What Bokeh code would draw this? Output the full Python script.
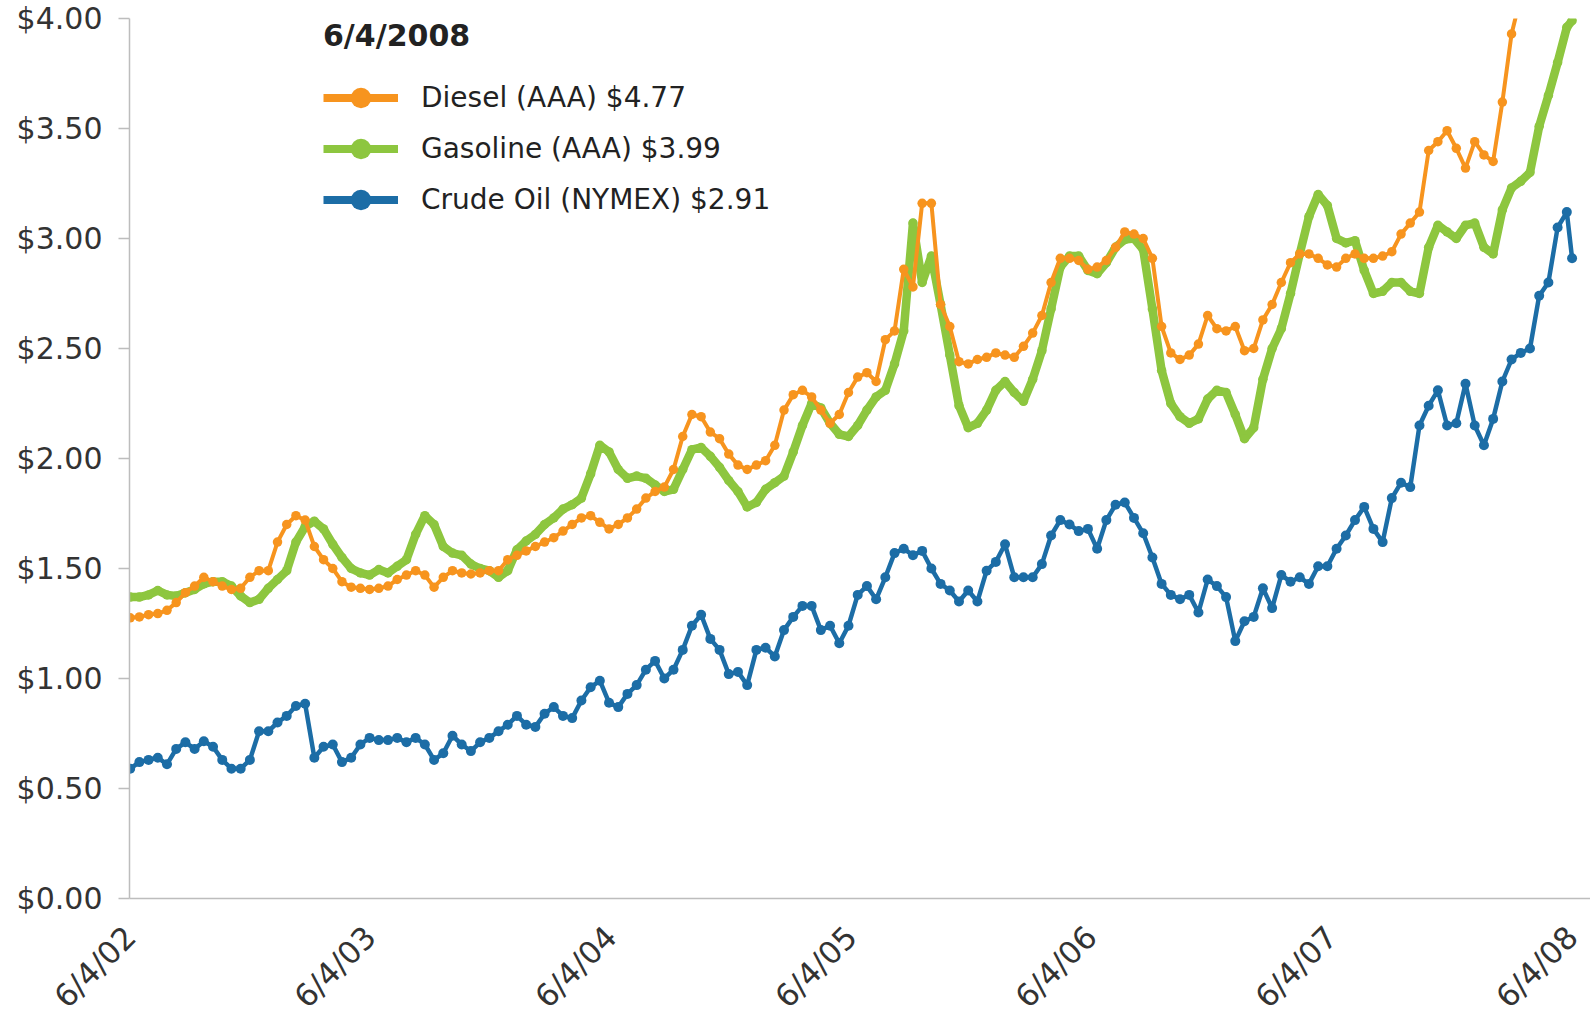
import pandas as pd
from datetime import datetime
from math import pi
from bokeh.plotting import figure
from bokeh.models import (Range1d, FixedTicker, NumeralTickFormatter, Legend,
                          LegendItem, ColumnDataSource, CustomJSTickFormatter)
from bokeh.embed import file_html
from bokeh.resources import INLINE

# ---------------- data ($ per gallon) ----------------
dates = list(pd.date_range("2002-06-04", periods=157, freq="14D")) + [pd.Timestamp("2008-06-04")]

gasoline = [
    1.37, 1.37, 1.38, 1.40, 1.38, 1.375, 1.39, 1.405, 1.43, 1.44,
    1.44, 1.42, 1.375, 1.345, 1.36, 1.41, 1.45, 1.49, 1.62, 1.69,
    1.715, 1.68, 1.61, 1.55, 1.50, 1.48, 1.47, 1.495, 1.48, 1.51,
    1.54, 1.655, 1.74, 1.70, 1.60, 1.57, 1.56, 1.52, 1.50, 1.49,
    1.46, 1.49, 1.585, 1.625, 1.655, 1.70, 1.73, 1.77, 1.79, 1.82,
    1.93, 2.06, 2.03, 1.95, 1.91, 1.92, 1.91, 1.88, 1.85, 1.86,
    1.95, 2.04, 2.05, 2.01, 1.96, 1.90, 1.85, 1.78, 1.80, 1.86,
    1.89, 1.92, 2.03, 2.15, 2.25, 2.23, 2.16, 2.11, 2.10, 2.15,
    2.22, 2.28, 2.31, 2.43, 2.58, 3.07, 2.80, 2.92, 2.70, 2.47,
    2.24, 2.14, 2.16, 2.22, 2.31, 2.35, 2.30, 2.26, 2.36, 2.49,
    2.68, 2.87, 2.92, 2.92, 2.855, 2.84, 2.89, 2.96, 2.995, 3.00,
    2.95, 2.68, 2.40, 2.25, 2.19, 2.16, 2.18, 2.27, 2.31, 2.30,
    2.20, 2.09, 2.14, 2.36, 2.50, 2.59, 2.75, 2.93, 3.10, 3.20,
    3.15, 3.00, 2.98, 2.99, 2.855, 2.75, 2.76, 2.80, 2.80, 2.76,
    2.75, 2.96, 3.06, 3.03, 3.00, 3.06, 3.07, 2.96, 2.93, 3.13,
    3.23, 3.26, 3.30, 3.51, 3.65, 3.80, 3.96, 3.99,
]

diesel = [
    1.276, 1.28, 1.29, 1.295, 1.31, 1.345, 1.39, 1.42, 1.46, 1.44,
    1.42, 1.405, 1.41, 1.46, 1.49, 1.49, 1.62, 1.70, 1.74, 1.72,
    1.60, 1.54, 1.50, 1.44, 1.415, 1.41, 1.405, 1.41, 1.42, 1.45,
    1.47, 1.49, 1.47, 1.415, 1.46, 1.49, 1.48, 1.475, 1.48, 1.49,
    1.49, 1.54, 1.56, 1.58, 1.60, 1.62, 1.64, 1.67, 1.70, 1.73,
    1.74, 1.71, 1.68, 1.70, 1.73, 1.77, 1.82, 1.85, 1.87, 1.95,
    2.10, 2.20, 2.19, 2.12, 2.09, 2.02, 1.97, 1.95, 1.97, 1.99,
    2.06, 2.22, 2.29, 2.31, 2.28, 2.22, 2.16, 2.20, 2.30, 2.37,
    2.39, 2.35, 2.54, 2.58, 2.86, 2.78, 3.16, 3.16, 2.70, 2.60,
    2.44, 2.43, 2.45, 2.46, 2.48, 2.47, 2.46, 2.51, 2.57, 2.65,
    2.80, 2.91, 2.91, 2.90, 2.86, 2.87, 2.90, 2.96, 3.03, 3.02,
    3.00, 2.91, 2.60, 2.48, 2.45, 2.47, 2.52, 2.65, 2.59, 2.58,
    2.60, 2.49, 2.50, 2.63, 2.70, 2.80, 2.89, 2.93, 2.93, 2.91,
    2.88, 2.87, 2.91, 2.93, 2.91, 2.91, 2.92, 2.94, 3.02, 3.07,
    3.12, 3.40, 3.44, 3.49, 3.41, 3.32, 3.44, 3.38, 3.35, 3.62,
    3.93, 4.10, 4.20, 4.35, 4.45, 4.70, 4.75, 4.77,
]

crude = [
    0.59, 0.62, 0.63, 0.64, 0.61, 0.68, 0.71, 0.68, 0.715, 0.69,
    0.63, 0.59, 0.59, 0.63, 0.76, 0.76, 0.80, 0.83, 0.875, 0.885,
    0.64, 0.69, 0.70, 0.62, 0.64, 0.70, 0.73, 0.72, 0.72, 0.73,
    0.71, 0.73, 0.70, 0.63, 0.66, 0.74, 0.70, 0.67, 0.71, 0.73,
    0.76, 0.79, 0.83, 0.79, 0.78, 0.84, 0.87, 0.83, 0.82, 0.90,
    0.96, 0.99, 0.89, 0.87, 0.93, 0.97, 1.04, 1.08, 1.00, 1.04,
    1.13, 1.24, 1.29, 1.18, 1.13, 1.02, 1.03, 0.97, 1.13, 1.14,
    1.10, 1.22, 1.28, 1.33, 1.33, 1.22, 1.24, 1.16, 1.24, 1.38,
    1.42, 1.36, 1.46, 1.57, 1.59, 1.56, 1.58, 1.50, 1.43, 1.40,
    1.35, 1.40, 1.35, 1.49, 1.53, 1.61, 1.46, 1.46, 1.46, 1.52,
    1.65, 1.72, 1.70, 1.67, 1.68, 1.59, 1.72, 1.79, 1.80, 1.73,
    1.66, 1.55, 1.43, 1.38, 1.36, 1.38, 1.30, 1.45, 1.42, 1.37,
    1.17, 1.26, 1.28, 1.41, 1.32, 1.47, 1.44, 1.46, 1.43, 1.51,
    1.51, 1.59, 1.65, 1.72, 1.78, 1.68, 1.62, 1.82, 1.89, 1.87,
    2.15, 2.24, 2.31, 2.15, 2.16, 2.34, 2.15, 2.06, 2.18, 2.35,
    2.45, 2.48, 2.50, 2.74, 2.80, 3.05, 3.12, 2.91,
]

series_labels = ["Diesel (AAA) $4.77", "Gasoline (AAA) $3.99", "Crude Oil (NYMEX) $2.91"]
legend_title = "6/4/2008"

x_tick_dates = ["2002-06-04", "2003-06-04", "2004-06-04", "2005-06-04",
                "2006-06-04", "2007-06-04", "2008-06-04"]
x_tick_labels = ["6/4/02", "6/4/03", "6/4/04", "6/4/05", "6/4/06", "6/4/07", "6/4/08"]
y_ticks = [0.0, 0.5, 1.0, 1.5, 2.0, 2.5, 3.0, 3.5, 4.0]

# ---------------- styling ----------------
ORANGE = "#F7941E"
GREEN = "#8DC63F"
BLUE = "#1C6DA6"
AXIS_GRAY = "#BDBDBD"
TEXT = "#333333"
FONT = "DejaVu Sans"

p = figure(width=1590, height=1030, x_axis_type="datetime",
           x_range=Range1d(datetime(2002, 6, 3), datetime(2008, 7, 2)),
           y_range=Range1d(0, 4),
           output_backend="svg", toolbar_location=None,
           min_border_left=129, min_border_right=0,
           min_border_top=18, min_border_bottom=132)
p.outline_line_color = None
p.grid.visible = False
p.background_fill_color = "white"
p.border_fill_color = "white"

src = ColumnDataSource(dict(date=dates, diesel=diesel, gasoline=gasoline, crude=crude))

p.line("date", "gasoline", source=src, line_color=GREEN, line_width=8.5, line_join="round")
p.scatter("date", "gasoline", source=src, size=9.5, fill_color=GREEN, line_color=None)
p.line("date", "diesel", source=src, line_color=ORANGE, line_width=4, line_join="round")
p.scatter("date", "diesel", source=src, size=9.5, fill_color=ORANGE, line_color=None)
p.line("date", "crude", source=src, line_color=BLUE, line_width=4.5, line_join="round")
p.scatter("date", "crude", source=src, size=10, fill_color=BLUE, line_color=None)

# legend key glyphs (thick line + big dot); their single point lies outside the ranges
key_src = ColumnDataSource(dict(x=[datetime(2000, 1, 1)], y=[-10.0]))
items = []
for lab, col in zip(series_labels, [ORANGE, GREEN, BLUE]):
    lr = p.line("x", "y", source=key_src, line_color=col, line_width=8)
    sr = p.scatter("x", "y", source=key_src, fill_color=col, line_color=None)
    items.append(LegendItem(label=lab, renderers=[lr, sr]))

legend = Legend(items=items, location=(194, 673), title=legend_title,
                title_text_font=FONT, title_text_font_style="bold",
                title_text_font_size="30px", title_text_color="#222222",
                title_standoff=19,
                label_text_font=FONT, label_text_font_size="28px",
                label_text_color="#222222",
                glyph_width=75, glyph_height=51, label_standoff=23,
                spacing=0, padding=0, margin=0,
                border_line_color=None, background_fill_alpha=0)
p.add_layout(legend)

# y axis
p.yaxis.ticker = FixedTicker(ticks=y_ticks)
p.yaxis.formatter = NumeralTickFormatter(format="$0.00")
p.yaxis.major_label_text_font = FONT
p.yaxis.major_label_text_font_size = "30px"
p.yaxis.major_label_text_color = TEXT
p.yaxis.major_tick_out = 11
p.yaxis.major_tick_in = 0
p.yaxis.minor_tick_line_color = None
p.yaxis.axis_line_color = AXIS_GRAY
p.yaxis.axis_line_width = 1.5
p.yaxis.major_tick_line_color = AXIS_GRAY
p.yaxis.major_tick_line_width = 1.5
p.yaxis.major_label_standoff = 16

# x axis: ticks on the June-4 dates, rotated labels, no tick marks
x_ticks_ms = [pd.Timestamp(d).value / 1e6 for d in x_tick_dates]
p.xaxis.ticker = FixedTicker(ticks=x_ticks_ms)
p.xaxis.formatter = CustomJSTickFormatter(
    args=dict(tick_ms=x_ticks_ms, tick_text=x_tick_labels),
    code="const i = tick_ms.indexOf(tick); return i >= 0 ? tick_text[i] : '';")
p.xaxis.major_label_orientation = pi / 4
p.xaxis.major_label_text_font = FONT
p.xaxis.major_label_text_font_size = "31px"
p.xaxis.major_label_text_color = TEXT
p.xaxis.major_label_standoff = 33
p.xaxis.major_tick_out = 0
p.xaxis.major_tick_in = 0
p.xaxis.major_tick_line_color = None
p.xaxis.minor_tick_line_color = None
p.xaxis.axis_line_color = AXIS_GRAY
p.xaxis.axis_line_width = 1.5

open("out.html", "w").write(file_html(p, INLINE))
